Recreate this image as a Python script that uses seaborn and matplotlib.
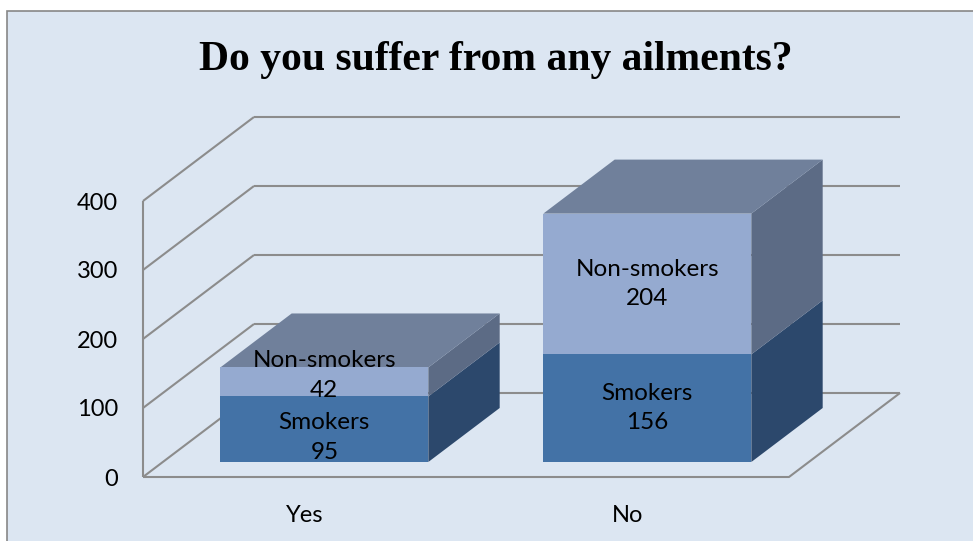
import matplotlib
matplotlib.use("Agg")
import matplotlib.pyplot as plt
from matplotlib.patches import Polygon, Rectangle
from matplotlib.lines import Line2D
import seaborn as sns
import pandas as pd

# --- data -------------------------------------------------------------
categories = ["Yes", "No"]
smokers = [95, 156]
non_smokers = [42, 204]
series_names = ["Smokers", "Non-smokers"]
y_ticks = [0, 100, 200, 300, 400]
title = "Do you suffer from any ailments?"

# --- style ------------------------------------------------------------
sns.set_style("white")
plt.rcParams["font.family"] = ["Lato", "DejaVu Sans"]
plt.rcParams["text.color"] = "black"

BG = "#DCE6F2"
GRID = "#8C8C8C"
FRONT_DARK = "#4372A6"
FRONT_LIGHT = "#95AAD0"
SIDE_DARK = "#2C486C"
SIDE_LIGHT = "#5C6B85"
TOP = "#70809B"

W, H = 973, 541
fig = plt.figure(figsize=(W / 100, H / 100), dpi=100)
fig.patch.set_facecolor("white")

# chart area frame (runs off the right and bottom edges)
fig.add_artist(Rectangle((7 / W, -0.1), 1.2, (H - 11) / H + 0.1, transform=fig.transFigure,
                         facecolor=BG, edgecolor="#878787", linewidth=1.2, zorder=0))

# front plane of the plot box
ax = fig.add_axes([143 / W, 64 / H, 646 / W, 276 / H])
ax.set_facecolor("none")
for s in ax.spines.values():
    s.set_visible(False)

totals = [s + n for s, n in zip(smokers, non_smokers)]
df = pd.DataFrame({"answer": categories, "smokers": smokers, "total": totals})

bar_w = 0.644
sns.barplot(data=df, x="answer", y="total", color=FRONT_LIGHT, saturation=1,
            width=bar_w, linewidth=0, ax=ax, zorder=3)
sns.barplot(data=df, x="answer", y="smokers", color=FRONT_DARK, saturation=1,
            width=bar_w, linewidth=0, ax=ax, zorder=4)

ax.set_xlim(-0.5, 1.5)
ax.set_ylim(0, 400)

# depth vector of the 3D box, in data units
px_per_cat = 646 / 2
px_per_val = 276 / 400
Dx, Dy = 111 / px_per_cat, 84 / px_per_val
f0, f1 = 15 / 84, 69 / 84          # bar front / back depth fraction
ddx, ddy = (f1 - f0) * Dx, (f1 - f0) * Dy

line_kw = dict(color=GRID, linewidth=1.5, clip_on=False, zorder=1,
               solid_capstyle="butt")

# back wall and left wall gridlines
for v in y_ticks:
    ax.add_line(Line2D([-0.5 + Dx, 1.5 + Dx], [v + Dy, v + Dy], **line_kw))
    ax.add_line(Line2D([-0.5, -0.5 + Dx], [v, v + Dy], **line_kw))
# left axis and floor outline
ax.add_line(Line2D([-0.5, -0.5], [0, 400], **line_kw))
ax.add_line(Line2D([-0.5, 1.5, 1.5 + Dx], [0, 0, Dy], **line_kw))

# move bar fronts into the middle of the depth and add side/top faces
for p in ax.patches:
    p.set_x(p.get_x() + f0 * Dx)
    p.set_y(p.get_y() + f0 * Dy)
    p.set_clip_on(False)

# label nudges (points) where the two labels of a short bar would collide
nudge = {(0, 0): -6, (0, 1): 4.5}

yb = f0 * Dy
for i, (s, t) in enumerate(zip(smokers, totals)):
    xl = i - bar_w / 2 + f0 * Dx
    xr = i + bar_w / 2 + f0 * Dx
    for y0, y1, col in [(yb, yb + s, SIDE_DARK), (yb + s, yb + t, SIDE_LIGHT)]:
        ax.add_patch(Polygon([(xr, y0), (xr + ddx, y0 + ddy), (xr + ddx, y1 + ddy), (xr, y1)],
                             closed=True, facecolor=col, edgecolor="none",
                             clip_on=False, zorder=2))
    yt = yb + t
    ax.add_patch(Polygon([(xl, yt), (xr, yt), (xr + ddx, yt + ddy), (xl + ddx, yt + ddy)],
                         closed=True, facecolor=TOP, edgecolor="none",
                         clip_on=False, zorder=2))

    # data labels on the front faces
    xc = i + f0 * Dx
    segs = [(yb + s / 2, f"{series_names[0]}\n{s}"),
            (yb + s + (t - s) / 2, f"{series_names[1]}\n{t - s}")]
    for k, (yc, txt) in enumerate(segs):
        ax.annotate(txt, (xc, yc), xytext=(0, nudge.get((i, k), 0)),
                    textcoords="offset points", ha="center", va="center",
                    fontsize=17.5, linespacing=1.5, color="black", zorder=6,
                    annotation_clip=False)

ax.set_yticks(y_ticks)
ax.set_yticklabels([str(v) for v in y_ticks])
ax.set_xticks(range(len(categories)))
ax.set_xticklabels(categories)
ax.tick_params(axis="y", length=0, pad=18, labelsize=17, labelcolor="black")
ax.tick_params(axis="x", length=0, pad=20, labelsize=17, labelcolor="black")
ax.set_xlabel("")
ax.set_ylabel("")

fig.text(496 / W, (H - 70) / H, title, ha="center", va="baseline", color="black",
         fontsize=30, fontweight="bold", family=["Liberation Serif", "DejaVu Serif"])

fig.savefig("out.png", dpi=100)
